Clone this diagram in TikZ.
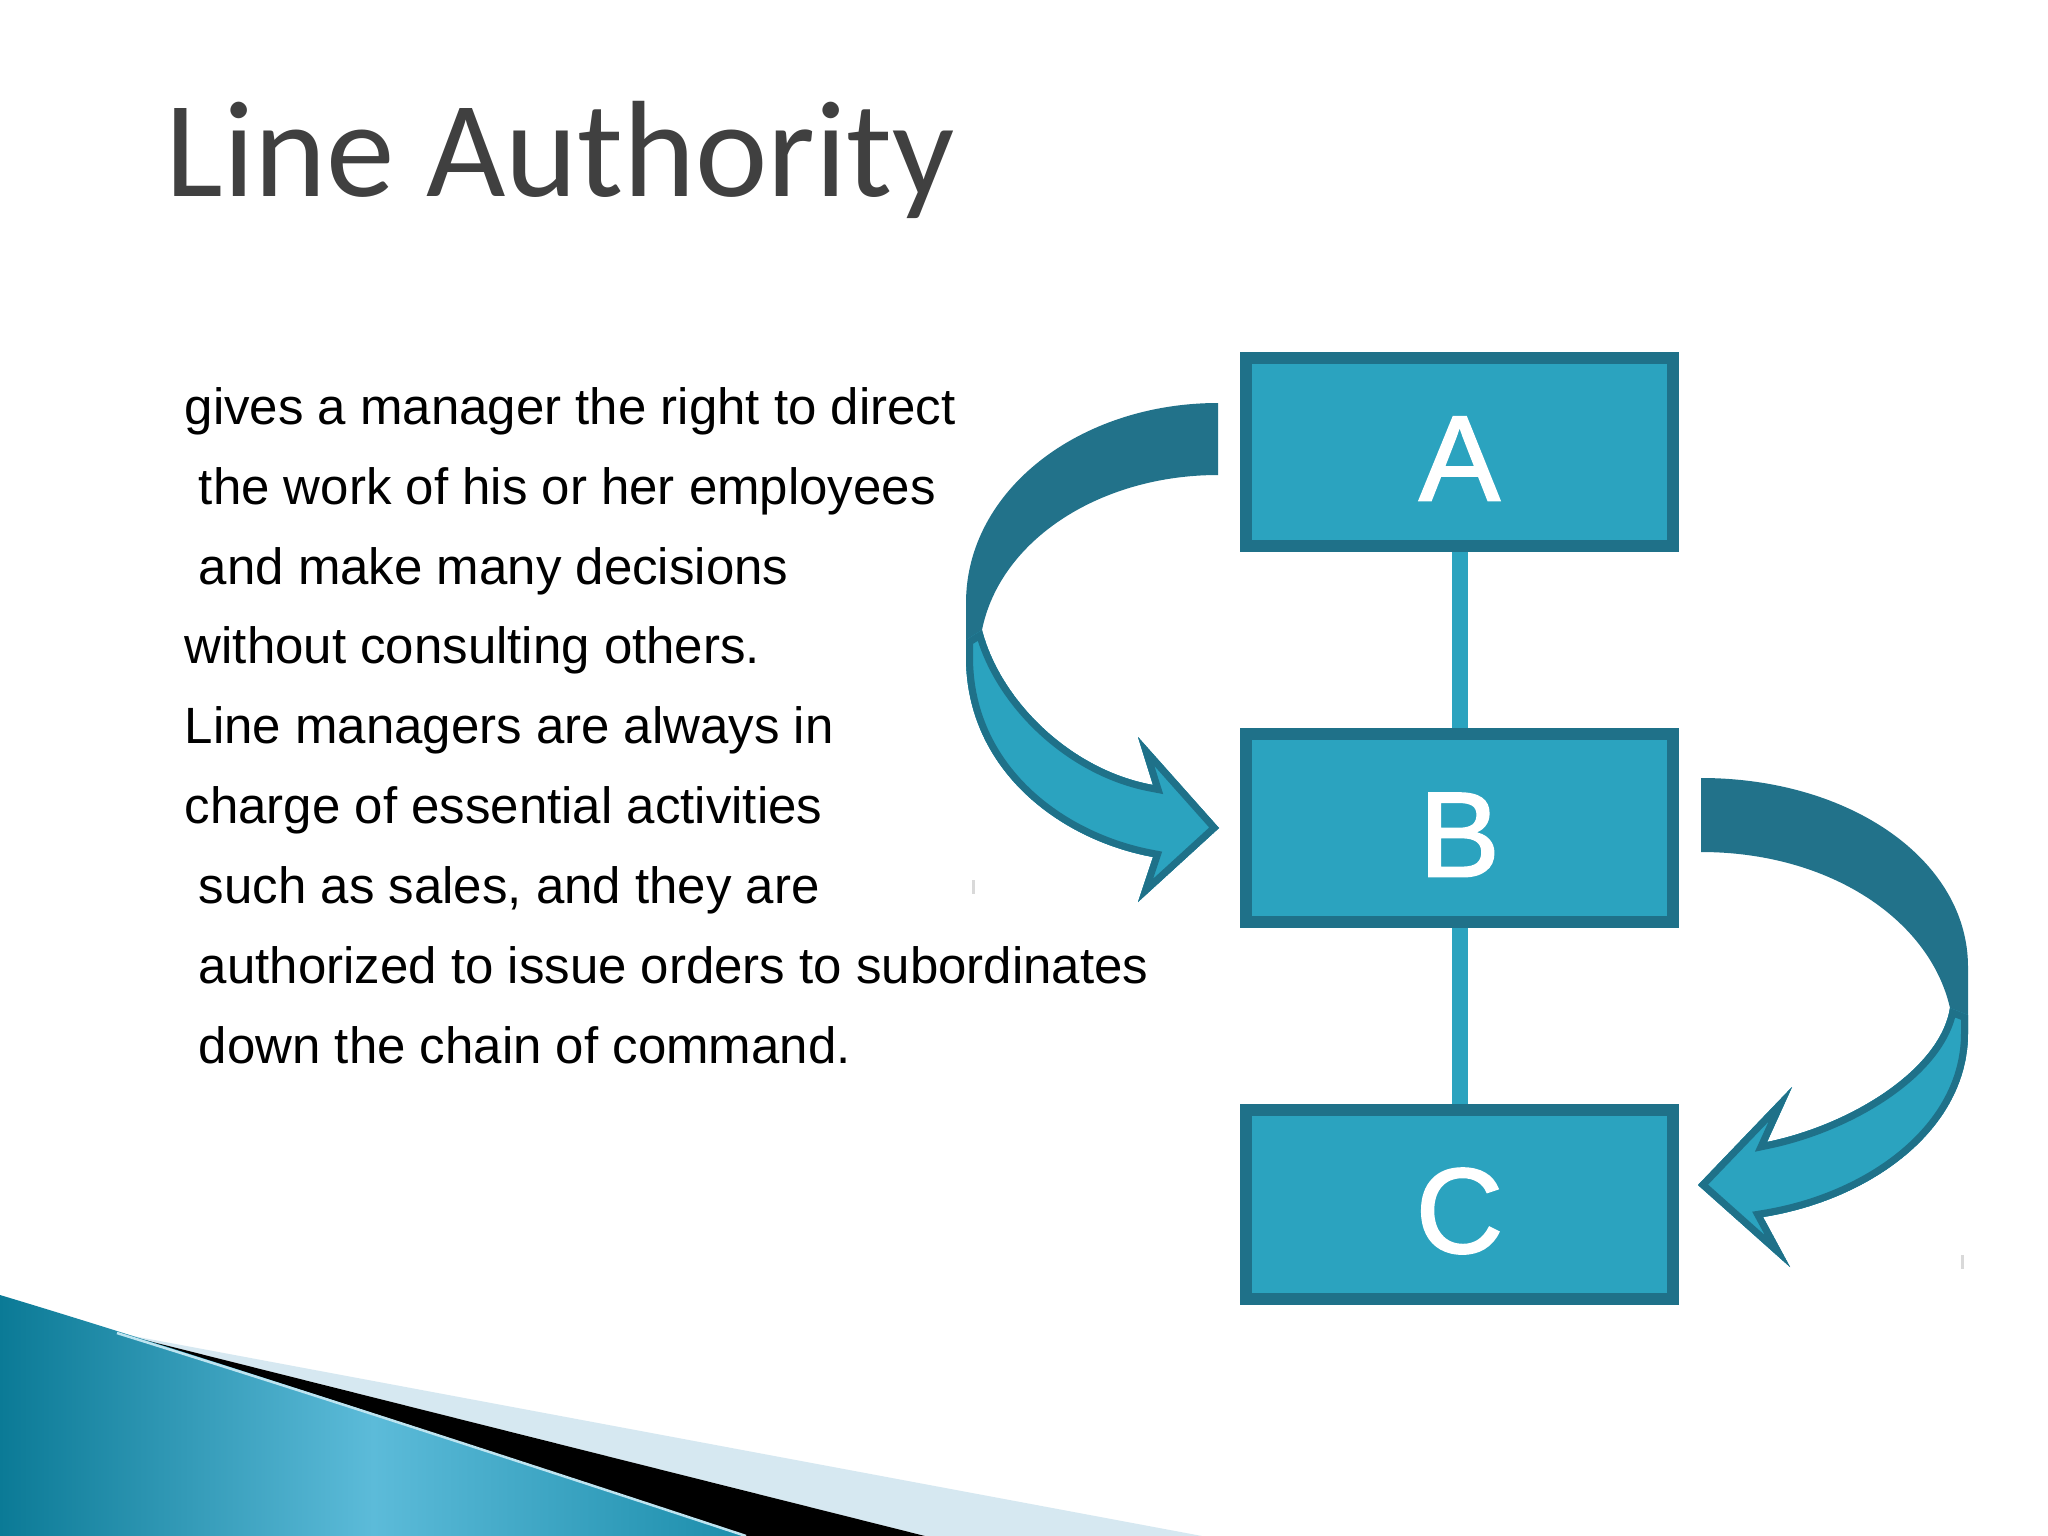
\documentclass[tikz,border=0pt]{standalone}
\usepackage{fontspec}
\setmainfont{Liberation Sans}
\newfontfamily\titlefont{Carlito}
\newfontfamily\letterfont[FakeBold=1.5]{Liberation Sans}
\usetikzlibrary{positioning}
\definecolor{boxfill}{HTML}{2BA3BF}
\definecolor{boxline}{HTML}{1F7189}
\definecolor{bandback}{HTML}{22728A}
\definecolor{titlegray}{HTML}{404040}
\definecolor{tealdark}{HTML}{0B7A96}
\definecolor{teallight}{HTML}{5CBBD9}
\definecolor{tealmid}{HTML}{1B8DAB}
\definecolor{paleblue}{HTML}{D6E8F1}
\newcommand{\frontAB}{(966,640) -- (966,657) .. controls (966,770) and (1060,840) .. (1153,857)
  -- (1138,902) -- (1219,828) -- (1138,737) -- (1153,785)
  .. controls (1070,770) and (1000,700) .. (982,630) -- cycle}
\newcommand{\frontBC}{(1968,1015) -- (1968,1033) .. controls (1968,1130) and (1870,1200) .. (1763,1217)
  -- (1790,1267) -- (1698,1185) -- (1792,1087) -- (1767,1142)
  .. controls (1850,1125) and (1940,1070) .. (1950,1008) -- cycle}
\tikzset{
  box/.style={draw=boxline, fill=boxfill, line width=1.2mm, minimum width=4.27cm,
    minimum height=1.88cm, text=white, text height=27.5pt, text depth=0pt,
    font=\letterfont\fontsize{34.5}{40}\selectfont},
  link/.style={draw=boxfill, line width=1.6mm},
  ribbon/.style={fill=bandback},
  ribbonfront/.style={fill=boxfill, draw=boxline, line width=1.4mm},
  titletext/.style={text=titlegray, inner sep=0pt, font=\titlefont\fontsize{39}{45}\selectfont},
  bodytext/.style={inner sep=0pt, align=left, font=\fontsize{14.5}{22.7}\selectfont}
}
\begin{document}
\begin{tikzpicture}[x=0.01cm,y=-0.01cm,node distance=1.76cm]

\fill[white] (0,0) rectangle (2048,1536);
\useasboundingbox (0,0) rectangle (2048,1536);

% footer wedge
\fill[paleblue] (117,1333) -- (1202,1536) -- (925,1536) -- cycle;
\fill[black] (117,1333) -- (925,1536) -- (746,1536) -- cycle;
\shade[left color=tealdark, right color=tealmid, middle color=teallight]
  (0,1295) .. controls (200,1355) and (500,1455) .. (746,1536) -- (0,1536) -- cycle;
\draw[white!60!teallight, line width=0.25mm] (117,1333) .. controls (300,1390) and (500,1455) .. (746,1536);

\node[titletext, anchor=base west] (title) at (165,196) {Line Authority};
% base of the last line
\node[bodytext, anchor=base west] (body) at (184,1063) {gives a manager the right to direct\\
\ the work of his or her employees\\
\ and make many decisions\\
without consulting others.\\
Line managers are always in\\
charge of essential activities\\
\ such as sales, and they are\\
\ authorized to issue orders to subordinates\\
\ down the chain of command.};

\node[box] (A) at (1459.5,452) {A};
\node[box] (B) [below=of A] {B};
\node[box] (C) [below=of B] {C};

\path[link] (A) -- (B)
            (B) -- (C);

% A to B
\fill[ribbon] (1218,403) .. controls (1080,403) and (966,490) .. (966,603) -- (966,657)
  .. controls (966,770) and (1060,840) .. (1153,857) -- (1138,902) -- (1219,828)
  -- (1138,737) -- (1153,785) .. controls (1070,770) and (1000,700) .. (982,630)
  .. controls (1000,540) and (1100,475) .. (1218,475) -- cycle;
\begin{scope}
  \clip \frontAB;
  \path[ribbonfront] \frontAB;
\end{scope}

% B to C
\fill[ribbon] (1701,778) .. controls (1850,778) and (1968,860) .. (1968,967) -- (1968,1033)
  .. controls (1968,1130) and (1870,1200) .. (1763,1217) -- (1790,1267) -- (1698,1185)
  -- (1792,1087) -- (1767,1142) .. controls (1850,1125) and (1940,1070) .. (1950,1008)
  .. controls (1930,920) and (1830,852) .. (1701,852) -- cycle;
\begin{scope}
  \clip \frontBC;
  \path[ribbonfront] \frontBC;
\end{scope}

\draw[gray!30, line width=0.3mm] (973,880) -- (973,894)
  (1962,1255) -- (1962,1269);
\end{tikzpicture}
\end{document}
